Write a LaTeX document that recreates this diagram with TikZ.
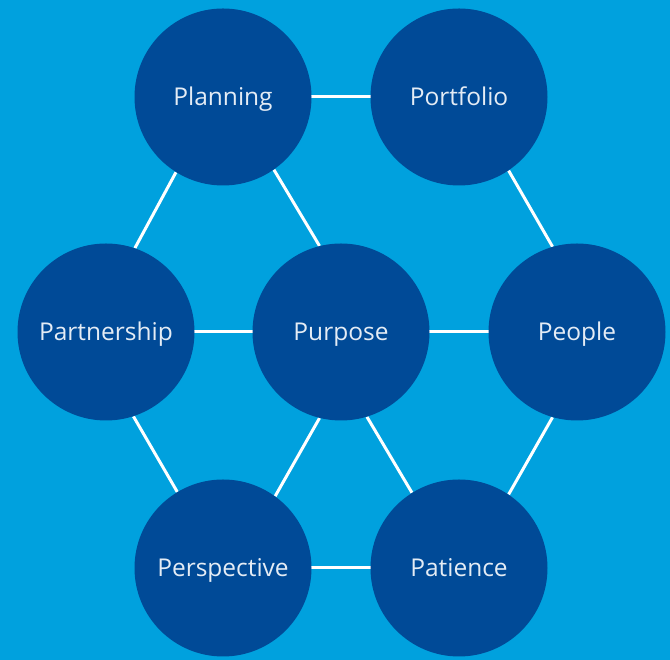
\documentclass[tikz,border=0pt]{standalone}
\usepackage{fontspec}
\setmainfont{Open Sans}
\usepackage{xcolor}
\usetikzlibrary{positioning,backgrounds}
\definecolor{skyblue}{HTML}{00A1DE}
\definecolor{navyblue}{HTML}{004A97}
\definecolor{softwhite}{HTML}{E4ECF5}

\begin{document}
\begin{tikzpicture}[
    x=1pt, y=1pt,
    font=\fontsize{24.5}{28}\selectfont,
    every node/.style={align=center},
    pcircle/.style={circle, fill=navyblue, draw=none, minimum size=177pt, inner sep=0pt,
                    text=softwhite, text height=20pt, text depth=2pt},
    link/.style={white, line width=3pt}
]

\useasboundingbox (0,0) rectangle (670,660);

\node[pcircle] (plan)  at (223,563) {Planning};
\node[pcircle] (port)  at (459,563) {Portfolio};
\node[pcircle] (part)  at (106,328) {Partnership};
\node[pcircle] (purp)  at (341,328) {Purpose};
\node[pcircle] (peop)  at (577,328) {People};
\node[pcircle] (persp) at (223,92)  {Perspective};
\node[pcircle] (pat)   at (459,92)  {Patience};

\begin{scope}[on background layer]
\fill[skyblue] (0,0) rectangle (670,660);
% horizontal links
\draw[link] (plan.center) -- (port.center);
\draw[link] (part.center) -- (purp.center);
\draw[link] (purp.center) -- (peop.center);
\draw[link] (persp.center) -- (pat.center);
% slanted links
\draw[link] (plan.238) -- (part.71);
\draw[link] (plan.305) -- (purp.104);
\draw[link] (port.304) -- (peop.106);
\draw[link] (part.288) -- (persp.121);
\draw[link] (purp.256) -- (persp.54);
\draw[link] (purp.287) -- (pat.122);
\draw[link] (peop.254) -- (pat.56);
\end{scope}

\end{tikzpicture}
\end{document}
